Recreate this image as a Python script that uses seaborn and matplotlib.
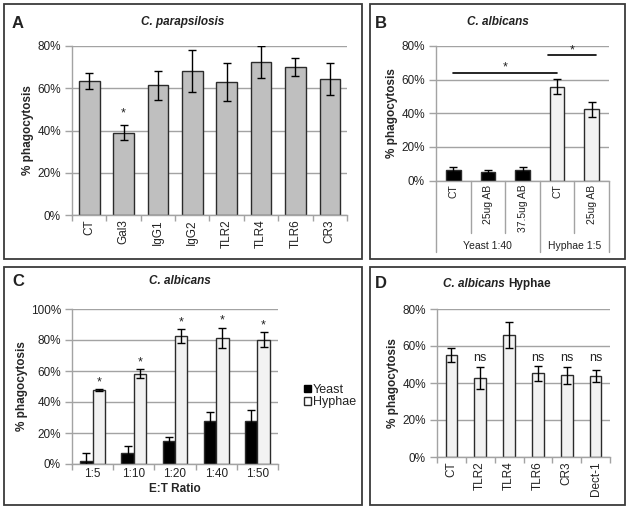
import matplotlib
matplotlib.use("Agg")
import matplotlib.pyplot as plt
import matplotlib.patches as mpatches
from matplotlib.ticker import MultipleLocator, PercentFormatter
import numpy as np
import pandas as pd
import seaborn as sns

# --- panel A: C. parapsilosis ---
a_labels = ["CT", "Gal3", "IgG1", "IgG2", "TLR2", "TLR4", "TLR6", "CR3"]
a_values = [63.4, 39.0, 61.4, 68.3, 63.1, 72.4, 70.0, 64.5]
a_errors = [3.6, 3.6, 7.0, 10.0, 9.0, 7.6, 4.4, 7.5]
a_stars = ["", "*", "", "", "", "", "", ""]

# --- panel B: C. albicans yeast vs hyphae ---
b_keys = ["y_ct", "y_25", "y_375", "h_ct", "h_25"]
b_ticklabels = ["CT", "25ug AB", "37.5ug AB", "CT", "25ug AB"]
b_groups = ["Yeast 1:40", "Yeast 1:40", "Yeast 1:40", "Hyphae 1:5", "Hyphae 1:5"]
b_values = [6.2, 5.2, 6.5, 55.8, 42.3]
b_errors = [1.6, 1.0, 1.8, 4.5, 4.3]
# significance brackets: (x start, x end, line height)
b_brackets = [(0, 3, 64.2), (2.75, 4.12, 74.4)]

# --- panel C: E:T ratio ---
c_ratios = ["1:5", "1:10", "1:20", "1:40", "1:50"]
c_yeast = [2.2, 6.9, 14.7, 27.6, 28.0]
c_yeast_err = [5.0, 4.5, 2.5, 5.8, 6.7]
c_hyphae = [47.8, 58.2, 82.5, 81.3, 80.2]
c_hyphae_err = [0.5, 2.9, 4.5, 6.7, 5.0]

# --- panel D: C. albicans hyphae receptors ---
d_labels = ["CT", "TLR2", "TLR4", "TLR6", "CR3", "Dect-1"]
d_values = [55.0, 42.7, 65.9, 45.3, 44.2, 43.7]
d_errors = [3.7, 6.0, 7.0, 4.0, 4.5, 3.4]
d_marks = ["", "ns", "", "ns", "ns", "ns"]

GRID = "#a3a3a3"
GREY_BAR = "#bfbfbf"
LIGHT_BAR = "#f2f2f2"
EDGE = "#2b2b2b"
W, H = 629, 512

sns.set_theme(style="white")
plt.rcParams["font.family"] = ["Liberation Sans", "DejaVu Sans"]
plt.rcParams["text.color"] = "#222222"
plt.rcParams["xtick.color"] = "#222222"
plt.rcParams["ytick.color"] = "#222222"


def px_axes(fig, left, top, right, bottom):
    return fig.add_axes([left / W, 1 - bottom / H, (right - left) / W, (bottom - top) / H])


def style_axis(ax, ymax, step, n, labelsize=8.5):
    ax.set_ylim(0, ymax)
    ax.set_xlim(-0.5, n - 0.5)
    ax.yaxis.set_major_locator(MultipleLocator(step))
    ax.yaxis.set_major_formatter(PercentFormatter(decimals=0))
    ax.grid(axis="y", color=GRID, lw=1)
    ax.set_axisbelow(True)
    for s in ("top", "right"):
        ax.spines[s].set_visible(False)
    for s in ("left", "bottom"):
        ax.spines[s].set_color(GRID)
        ax.spines[s].set_linewidth(1)
    ax.tick_params(axis="y", length=5, width=1, color=GRID, labelsize=8.5, pad=3, left=True)
    ax.tick_params(axis="x", which="major", length=0, labelsize=labelsize, pad=3)
    ax.set_xticks(np.arange(-0.5, n), minor=True)
    ax.tick_params(axis="x", which="minor", length=4, width=1, color=GRID, bottom=True)
    ax.set_xlabel("")
    ax.set_ylabel("% phagocytosis", fontweight="bold", fontsize=8.5, labelpad=2)


def bar_tops(bars):
    bars = [b for b in bars if b is not None]
    xs = [b.get_x() + b.get_width() / 2 for b in bars]
    hs = [b.get_height() for b in bars]
    return xs, hs


def add_errors(ax, xs, hs, errs, marks=None, offset=4.5, fixed_y=None, size=9):
    ax.errorbar(xs, hs, yerr=errs, fmt="none", ecolor="black", elinewidth=1,
                capsize=3, capthick=1, zorder=5)
    if marks:
        for x, h, e, m in zip(xs, hs, errs, marks):
            if m:
                y = fixed_y if fixed_y is not None else h + e + offset
                ax.text(x, y, m, ha="center", va="center", fontsize=size)


fig = plt.figure(figsize=(W / 100, H / 100), dpi=100)

# panel frames
for (l, t, r, b) in [(4, 4, 362, 259), (370, 4, 625, 259), (4, 267, 362, 505), (370, 267, 625, 505)]:
    fig.patches.append(mpatches.Rectangle((l / W, 1 - b / H), (r - l) / W, (b - t) / H,
                                          transform=fig.transFigure, fill=False,
                                          edgecolor="#3a3a3a", lw=1.3))

# ---------- A ----------
axA = px_axes(fig, 72, 46, 347, 215)
dfA = pd.DataFrame({"cond": a_labels, "val": a_values})
sns.barplot(data=dfA, x="cond", y="val", color=GREY_BAR, saturation=1, width=0.6,
            edgecolor=EDGE, linewidth=1, errorbar=None, ax=axA)
style_axis(axA, 80, 20, len(a_labels))
axA.set_xticks(range(len(a_labels)))
axA.set_xticklabels(a_labels, rotation=90)
xs, hs = bar_tops(axA.containers[0])
add_errors(axA, xs, hs, a_errors, a_stars, offset=5.5)

# ---------- B ----------
axB = px_axes(fig, 436, 46, 609, 180.5)
dfB = pd.DataFrame({"cond": b_keys, "val": b_values, "group": b_groups})
b_colors = {k: ("black" if g.startswith("Yeast") else LIGHT_BAR) for k, g in zip(b_keys, b_groups)}
sns.barplot(data=dfB, x="cond", y="val", hue="cond", dodge=False, saturation=1, width=0.42,
            palette=b_colors, edgecolor=EDGE, linewidth=1, errorbar=None, legend=False, ax=axB)
style_axis(axB, 80, 20, len(b_keys), labelsize=7.5)
axB.tick_params(axis="x", which="minor", length=0)
axB.set_xticks(range(len(b_keys)))
axB.set_xticklabels(b_ticklabels, rotation=90)
xs, hs = [], []
for cont in axB.containers:
    cx, ch = bar_tops(cont)
    xs += cx
    hs += ch
order = np.argsort(xs)
add_errors(axB, [xs[i] for i in order], [hs[i] for i in order], b_errors)
for x0, x1, y in b_brackets:
    axB.plot([x0, x1], [y, y], color="black", lw=1.2)
    axB.text((x0 + x1) / 2, y + 3, "*", ha="center", va="center", fontsize=9)
# multi-level category axis
tr = axB.get_xaxis_transform()
group_names = list(dict.fromkeys(b_groups))
group_edges = [-0.5] + [i + 0.5 for i in range(len(b_groups) - 1)
                        if b_groups[i] != b_groups[i + 1]] + [len(b_keys) - 0.5]
for xb in np.arange(-0.5, len(b_keys)):
    depth = -0.53 if xb in group_edges else -0.39
    axB.plot([xb, xb], [0, depth], color=GRID, lw=1, transform=tr, clip_on=False)
for g in group_names:
    idx = [i for i, gg in enumerate(b_groups) if gg == g]
    axB.text(np.mean(idx), -0.49, g, transform=tr, ha="center", va="center", fontsize=7.5)

# ---------- C ----------
axC = px_axes(fig, 72, 309, 278, 464)
dfC = pd.DataFrame({
    "ratio": c_ratios * 2,
    "val": c_yeast + c_hyphae,
    "type": ["Yeast"] * len(c_ratios) + ["Hyphae"] * len(c_ratios),
})
sns.barplot(data=dfC, x="ratio", y="val", hue="type", saturation=1, width=0.6,
            palette={"Yeast": "black", "Hyphae": LIGHT_BAR},
            edgecolor=EDGE, linewidth=1, errorbar=None, legend=False, ax=axC)
style_axis(axC, 100, 20, len(c_ratios))
xs, hs = bar_tops(axC.containers[0])
add_errors(axC, xs, hs, c_yeast_err)
xs, hs = bar_tops(axC.containers[1])
add_errors(axC, xs, hs, c_hyphae_err, ["*"] * len(c_ratios), offset=4.5)
axC.set_xlabel("E:T Ratio", fontweight="bold", fontsize=8.5, labelpad=2)
handles = [mpatches.Patch(facecolor="black", edgecolor="black", label="Yeast"),
           mpatches.Patch(facecolor="white", edgecolor=EDGE, label="Hyphae")]
fig.legend(handles=handles, loc="center left", bbox_to_anchor=(298 / W, 1 - 396 / H),
           frameon=False, fontsize=9, handlelength=0.55, handleheight=0.55,
           handletextpad=0.15, labelspacing=0.05, borderpad=0)

# ---------- D ----------
axD = px_axes(fig, 437, 309, 610, 457)
dfD = pd.DataFrame({"cond": d_labels, "val": d_values})
sns.barplot(data=dfD, x="cond", y="val", color=LIGHT_BAR, saturation=1, width=0.4,
            edgecolor=EDGE, linewidth=1, errorbar=None, ax=axD)
style_axis(axD, 80, 20, len(d_labels))
axD.set_xticks(range(len(d_labels)))
axD.set_xticklabels(d_labels, rotation=90)
xs, hs = bar_tops(axD.containers[0])
add_errors(axD, xs, hs, d_errors, d_marks, fixed_y=53.5, size=9)


# titles and panel letters
def title(x, y, s, **kw):
    fig.text(x / W, 1 - y / H, s, va="center", **kw)


title(18, 23, "A", fontsize=12, fontweight="bold", ha="center")
title(183, 22, "C. parapsilosis", fontsize=8.5, fontweight="bold", style="italic", ha="center")
title(381, 23, "B", fontsize=12, fontweight="bold", ha="center")
title(498, 22, "C. albicans", fontsize=8.5, fontweight="bold", style="italic", ha="center")
title(18, 281, "C", fontsize=12, fontweight="bold", ha="center")
title(180, 281, "C. albicans", fontsize=8.5, fontweight="bold", style="italic", ha="center")
title(381, 284, "D", fontsize=12, fontweight="bold", ha="center")
title(505, 284, "C. albicans", fontsize=8.5, fontweight="bold", style="italic", ha="right")
title(508, 284, "Hyphae", fontsize=8.5, fontweight="bold", ha="left")

fig.savefig("out.png", dpi=100)
